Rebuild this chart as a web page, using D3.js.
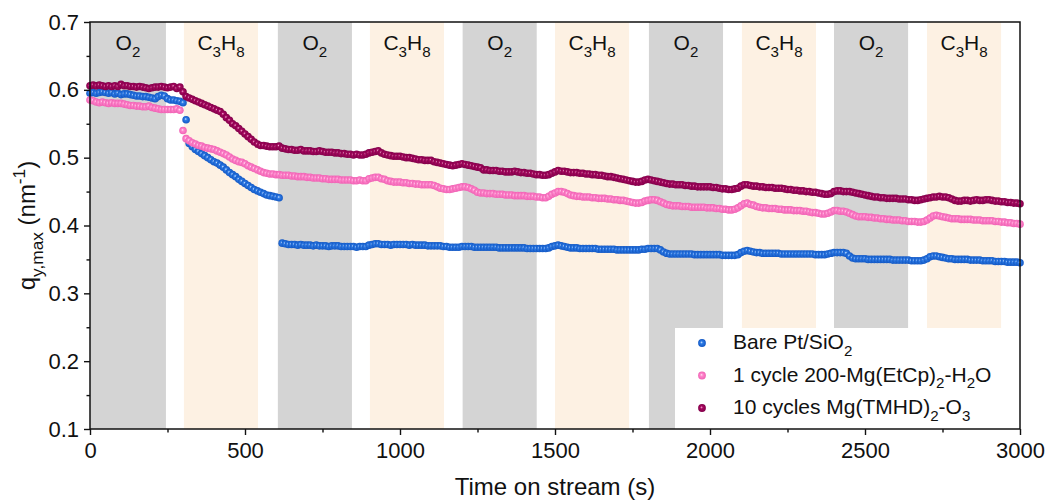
<!DOCTYPE html>
<html>
<head>
<meta charset="utf-8">
<script src="https://cdn.jsdelivr.net/npm/d3@7"></script>
<style>
  body { margin: 0; background: #fff; }
  svg { display: block; font-family: "Liberation Sans", Arial, sans-serif; }
  text { white-space: pre; }
</style>
</head>
<body>
<div id="viz-container"></div>
<script>
// sampling interval of the measurement (s)
let timeStep = 10;

// q_y,max values, one per 10 s, rows of 100 s
let bareValues = [
  0.595,0.596,0.595,0.596,0.597,0.596,0.595,0.596,0.594,0.595,
  0.593,0.594,0.594,0.593,0.592,0.591,0.591,0.590,0.590,0.589,
  0.588,0.587,0.590,0.592,0.591,0.587,0.585,0.585,0.584,0.583,
  0.581,0.556,0.521,0.516,0.512,0.509,0.506,0.503,0.500,0.497,
  0.494,0.492,0.489,0.486,0.482,0.478,0.475,0.472,0.468,0.465,
  0.462,0.459,0.456,0.453,0.451,0.449,0.447,0.445,0.444,0.443,
  0.442,0.441,0.374,0.373,0.372,0.372,0.372,0.371,0.372,0.371,
  0.371,0.371,0.370,0.371,0.370,0.370,0.370,0.369,0.370,0.370,
  0.370,0.369,0.369,0.369,0.369,0.369,0.368,0.369,0.369,0.369,
  0.371,0.372,0.373,0.373,0.372,0.372,0.372,0.371,0.372,0.372,
  0.372,0.372,0.372,0.371,0.372,0.371,0.371,0.371,0.371,0.370,
  0.370,0.370,0.370,0.370,0.369,0.369,0.368,0.368,0.368,0.368,
  0.369,0.369,0.369,0.369,0.368,0.368,0.368,0.368,0.368,0.368,
  0.368,0.368,0.367,0.367,0.367,0.367,0.367,0.367,0.367,0.367,
  0.367,0.366,0.366,0.366,0.366,0.366,0.366,0.366,0.367,0.369,
  0.370,0.371,0.370,0.369,0.368,0.367,0.367,0.367,0.366,0.366,
  0.366,0.366,0.366,0.366,0.365,0.365,0.365,0.365,0.365,0.365,
  0.364,0.364,0.364,0.364,0.364,0.364,0.364,0.364,0.365,0.365,
  0.366,0.366,0.366,0.366,0.364,0.361,0.359,0.358,0.358,0.358,
  0.358,0.358,0.358,0.358,0.358,0.357,0.357,0.357,0.357,0.357,
  0.357,0.357,0.357,0.357,0.356,0.356,0.356,0.356,0.356,0.357,
  0.360,0.362,0.363,0.362,0.361,0.360,0.360,0.359,0.359,0.359,
  0.359,0.359,0.359,0.358,0.358,0.358,0.358,0.358,0.358,0.358,
  0.358,0.358,0.358,0.358,0.357,0.357,0.357,0.357,0.358,0.359,
  0.360,0.360,0.360,0.360,0.359,0.355,0.352,0.351,0.351,0.351,
  0.351,0.350,0.350,0.350,0.350,0.350,0.350,0.350,0.350,0.349,
  0.349,0.349,0.349,0.349,0.349,0.348,0.348,0.348,0.348,0.349,
  0.351,0.354,0.355,0.355,0.354,0.353,0.352,0.351,0.351,0.350,
  0.350,0.350,0.350,0.350,0.349,0.349,0.349,0.349,0.348,0.348,
  0.348,0.348,0.347,0.347,0.347,0.347,0.346,0.346,0.346,0.346,
  0.345
];

let oneCycleValues = [
  0.585,0.584,0.582,0.581,0.582,0.581,0.580,0.581,0.580,0.580,
  0.580,0.579,0.578,0.577,0.577,0.576,0.576,0.575,0.575,0.576,
  0.574,0.573,0.572,0.571,0.571,0.571,0.571,0.571,0.572,0.570,
  0.540,0.528,0.525,0.522,0.520,0.518,0.517,0.515,0.514,0.513,
  0.512,0.510,0.508,0.506,0.504,0.501,0.498,0.496,0.494,0.493,
  0.491,0.488,0.486,0.484,0.482,0.480,0.478,0.477,0.476,0.476,
  0.475,0.475,0.474,0.474,0.474,0.473,0.473,0.472,0.472,0.472,
  0.471,0.471,0.470,0.470,0.470,0.469,0.469,0.468,0.468,0.468,
  0.468,0.467,0.467,0.467,0.467,0.466,0.466,0.467,0.466,0.466,
  0.469,0.470,0.471,0.471,0.469,0.468,0.466,0.465,0.464,0.464,
  0.464,0.463,0.463,0.462,0.462,0.461,0.461,0.460,0.460,0.460,
  0.460,0.459,0.457,0.455,0.454,0.453,0.453,0.454,0.455,0.456,
  0.457,0.457,0.456,0.454,0.452,0.449,0.448,0.448,0.447,0.447,
  0.447,0.446,0.446,0.446,0.445,0.445,0.445,0.444,0.444,0.444,
  0.444,0.443,0.443,0.443,0.442,0.442,0.441,0.441,0.443,0.446,
  0.448,0.450,0.450,0.449,0.447,0.445,0.444,0.443,0.443,0.442,
  0.442,0.442,0.441,0.441,0.440,0.440,0.440,0.439,0.439,0.438,
  0.438,0.437,0.437,0.436,0.435,0.434,0.433,0.433,0.434,0.436,
  0.437,0.438,0.438,0.437,0.435,0.433,0.431,0.430,0.429,0.429,
  0.429,0.428,0.428,0.428,0.427,0.427,0.427,0.427,0.427,0.426,
  0.426,0.426,0.425,0.425,0.424,0.424,0.423,0.423,0.424,0.426,
  0.429,0.432,0.433,0.431,0.430,0.428,0.427,0.426,0.426,0.425,
  0.425,0.425,0.424,0.424,0.423,0.423,0.423,0.422,0.422,0.422,
  0.421,0.421,0.420,0.419,0.419,0.418,0.417,0.417,0.418,0.420,
  0.422,0.422,0.421,0.421,0.420,0.418,0.416,0.414,0.413,0.413,
  0.413,0.412,0.412,0.411,0.411,0.410,0.410,0.409,0.409,0.408,
  0.408,0.408,0.407,0.407,0.406,0.406,0.406,0.405,0.405,0.406,
  0.408,0.411,0.414,0.415,0.414,0.413,0.412,0.411,0.410,0.410,
  0.410,0.409,0.409,0.409,0.409,0.408,0.408,0.408,0.407,0.407,
  0.407,0.407,0.406,0.406,0.405,0.405,0.404,0.404,0.403,0.403,
  0.402
];

let tenCycleValues = [
  0.606,0.607,0.606,0.607,0.606,0.605,0.606,0.605,0.606,0.605,
  0.608,0.606,0.606,0.605,0.605,0.604,0.605,0.604,0.603,0.602,
  0.603,0.604,0.604,0.605,0.604,0.603,0.604,0.605,0.602,0.604,
  0.597,0.590,0.588,0.586,0.584,0.582,0.580,0.578,0.576,0.574,
  0.572,0.570,0.568,0.564,0.559,0.555,0.550,0.547,0.543,0.539,
  0.535,0.531,0.527,0.523,0.520,0.518,0.518,0.517,0.516,0.516,
  0.516,0.517,0.514,0.513,0.512,0.512,0.511,0.511,0.512,0.510,
  0.510,0.510,0.509,0.509,0.510,0.509,0.508,0.508,0.508,0.507,
  0.507,0.506,0.506,0.505,0.505,0.504,0.505,0.504,0.504,0.505,
  0.507,0.508,0.509,0.510,0.507,0.505,0.504,0.503,0.502,0.502,
  0.502,0.501,0.500,0.500,0.499,0.498,0.497,0.497,0.496,0.496,
  0.496,0.494,0.493,0.492,0.491,0.490,0.489,0.488,0.489,0.490,
  0.491,0.490,0.489,0.488,0.487,0.486,0.485,0.482,0.482,0.481,
  0.481,0.481,0.480,0.480,0.479,0.479,0.479,0.480,0.479,0.478,
  0.478,0.477,0.477,0.476,0.475,0.475,0.474,0.474,0.475,0.477,
  0.479,0.481,0.480,0.480,0.479,0.478,0.478,0.478,0.477,0.477,
  0.476,0.476,0.475,0.475,0.474,0.474,0.473,0.472,0.472,0.471,
  0.470,0.469,0.468,0.467,0.466,0.465,0.464,0.464,0.465,0.467,
  0.468,0.467,0.466,0.465,0.464,0.463,0.462,0.461,0.461,0.460,
  0.460,0.460,0.459,0.459,0.458,0.458,0.457,0.457,0.457,0.457,
  0.457,0.456,0.456,0.455,0.454,0.454,0.453,0.453,0.454,0.455,
  0.458,0.460,0.460,0.459,0.458,0.458,0.457,0.457,0.456,0.456,
  0.456,0.455,0.455,0.455,0.454,0.453,0.453,0.452,0.452,0.451,
  0.451,0.450,0.450,0.449,0.449,0.448,0.447,0.446,0.446,0.447,
  0.450,0.451,0.451,0.450,0.450,0.450,0.449,0.448,0.447,0.446,
  0.445,0.444,0.443,0.442,0.442,0.441,0.441,0.440,0.440,0.440,
  0.440,0.439,0.439,0.439,0.438,0.438,0.437,0.437,0.438,0.439,
  0.440,0.441,0.442,0.442,0.443,0.442,0.442,0.441,0.439,0.437,
  0.436,0.436,0.437,0.437,0.436,0.437,0.438,0.437,0.437,0.438,
  0.438,0.437,0.436,0.436,0.435,0.435,0.434,0.434,0.433,0.433,
  0.432
];

let seriesNames = ["Bare Pt/SiO_2", "1 cycle 200-Mg(EtCp)_2-H_2O", "10 cycles Mg(TMHD)_2-O_3"];

// gas switching periods
let bandGas = ["O_2", "C_3H_8", "O_2", "C_3H_8", "O_2", "C_3H_8", "O_2", "C_3H_8", "O_2", "C_3H_8"];
let bandStart = [0, 303, 606, 903, 1202, 1500, 1803, 2103, 2400, 2700];
let bandEnd = [245, 542, 845, 1142, 1441, 1739, 2042, 2342, 2639, 2939];

let xTickValues = [0, 500, 1000, 1500, 2000, 2500, 3000];
let xMinorTicks = [250, 750, 1250, 1750, 2250, 2750];
let yTickValues = [0.1, 0.2, 0.3, 0.4, 0.5, 0.6, 0.7];
let yMinorTicks = [0.15, 0.25, 0.35, 0.45, 0.55, 0.65];

let width = 1046, height = 500;
let margin = {top: 22, right: 26, bottom: 71, left: 90};

let viz = d3.select("#viz-container")
  .append("svg")
    .attr("width", width)
    .attr("height", height);

let x = d3.scaleLinear().domain([0, 3000]).range([margin.left, width - margin.right]);
let y = d3.scaleLinear().domain([0.1, 0.7]).range([height - margin.bottom, margin.top]);

// text with _sub and ^sup parts
function richText(sel, str){
  let fs = parseFloat(sel.attr("font-size"));
  let i = 0, shift = 0;
  while(i < str.length){
    let c = str[i], mode = "normal", chunk = "";
    if(c == "_" || c == "^"){
      mode = c == "_" ? "sub" : "sup";
      i++;
      if(str[i] == "{"){
        let j = str.indexOf("}", i);
        chunk = str.slice(i + 1, j);
        i = j + 1;
      } else {
        chunk = str[i];
        i++;
      }
    } else {
      let j = i;
      while(j < str.length && str[j] != "_" && str[j] != "^") j++;
      chunk = str.slice(i, j);
      i = j;
    }
    let target = mode == "sub" ? fs * 0.32 : mode == "sup" ? -fs * 0.42 : 0;
    sel.append("tspan")
      .attr("dy", target - shift)
      .attr("font-size", mode == "normal" ? fs : fs * 0.72)
      .text(chunk);
    shift = target;
  }
}

// gas bands
let bands = bandGas.map(function(g, i){ return {gas: g, start: bandStart[i], end: bandEnd[i]}; });

viz.selectAll("rect.band").data(bands).enter()
  .append("rect")
    .attr("class", "band")
    .attr("x", function(d){ return x(d.start); })
    .attr("width", function(d){ return x(d.end) - x(d.start); })
    .attr("y", y(0.7))
    .attr("height", y(0.1) - y(0.7))
    .attr("fill", function(d){ return d.gas == "O_2" ? "#d4d4d4" : "#fdf1e3"; })
;

viz.selectAll("text.bandLabel").data(bands).enter()
  .append("text")
    .attr("class", "bandLabel")
    .attr("x", function(d){ return x((d.start + d.end) / 2); })
    .attr("y", 50)
    .attr("text-anchor", "middle")
    .attr("font-size", 21)
    .attr("fill", "#111")
    .each(function(d){ richText(d3.select(this), d.gas); })
;

// marker gradients
let seriesColors = [
  {light: "#cfe3ff", mid: "#2d7be6", dark: "#1358c4"},
  {light: "#ffe6f4", mid: "#ff86cc", dark: "#f062b4"},
  {light: "#f0b0d0", mid: "#a80860", dark: "#82004a"}
];
let defs = viz.append("defs");
seriesColors.forEach(function(c, i){
  let g = defs.append("radialGradient").attr("id", "ball" + i)
    .attr("cx", "50%").attr("cy", "50%").attr("r", "50%").attr("fx", "42%").attr("fy", "40%");
  g.append("stop").attr("offset", "0%").attr("stop-color", c.light);
  g.append("stop").attr("offset", "35%").attr("stop-color", c.mid);
  g.append("stop").attr("offset", "100%").attr("stop-color", c.dark);
});

let times = d3.range(0, 3000 + timeStep, timeStep);
let allSeries = [bareValues, oneCycleValues, tenCycleValues];

allSeries.forEach(function(values, i){
  let pts = values.map(function(v, k){ return {t: times[k], v: v}; });
  viz.append("g").selectAll("circle").data(pts).enter()
    .append("circle")
      .attr("cx", function(d){ return x(d.t); })
      .attr("cy", function(d){ return y(d.v); })
      .attr("r", 3.8)
      .attr("fill", "url(#ball" + i + ")")
  ;
});

// legend
let legend = viz.append("g");
legend.append("rect")
  .attr("x", 675).attr("y", 328)
  .attr("width", x(3000) - 675).attr("height", y(0.1) - 328)
  .attr("fill", "#fff");
seriesNames.forEach(function(name, i){
  legend.append("circle")
    .attr("cx", 702).attr("cy", 343 + i * 32.5).attr("r", 3.9)
    .attr("fill", "url(#ball" + i + ")");
  let t = legend.append("text")
    .attr("x", 733).attr("y", 349 + i * 32.5)
    .attr("font-size", 21)
    .attr("fill", "#111");
  richText(t, name);
});

// axes
viz.append("g")
  .attr("transform", "translate(0," + y(0.1) + ")")
  .call(d3.axisBottom(x).tickValues(xTickValues).tickSize(6).tickPadding(7).tickFormat(d3.format("d")));
viz.append("g")
  .attr("transform", "translate(0," + y(0.1) + ")")
  .call(d3.axisBottom(x).tickValues(xMinorTicks).tickSize(3.5).tickFormat(""));
viz.append("g")
  .attr("transform", "translate(" + x(0) + ",0)")
  .call(d3.axisLeft(y).tickValues(yTickValues).tickSize(6).tickPadding(5).tickFormat(d3.format(".1f")));
viz.append("g")
  .attr("transform", "translate(" + x(0) + ",0)")
  .call(d3.axisLeft(y).tickValues(yMinorTicks).tickSize(3.5).tickFormat(""));

viz.selectAll(".domain").remove();
viz.selectAll(".tick line").attr("stroke", "#111").attr("stroke-width", 1.4);
viz.selectAll(".tick text").attr("font-size", 22).attr("fill", "#111")
  .attr("font-family", "Liberation Sans, Arial, sans-serif");

// frame
viz.append("rect")
  .attr("x", x(0)).attr("y", y(0.7))
  .attr("width", x(3000) - x(0)).attr("height", y(0.1) - y(0.7))
  .attr("fill", "none").attr("stroke", "#111").attr("stroke-width", 1.5);

// axis titles
viz.append("text")
  .attr("x", (x(0) + x(3000)) / 2).attr("y", 495)
  .attr("text-anchor", "middle")
  .attr("font-size", 24)
  .attr("fill", "#111")
  .text("Time on stream (s)");

let yTitle = viz.append("text")
  .attr("transform", "translate(35," + (y(0.1) + y(0.7)) / 2 + ") rotate(-90)")
  .attr("text-anchor", "middle")
  .attr("font-size", 24)
  .attr("fill", "#111");
richText(yTitle, "q_{y,max} (nm^{-1})");
</script>
</body>
</html>
